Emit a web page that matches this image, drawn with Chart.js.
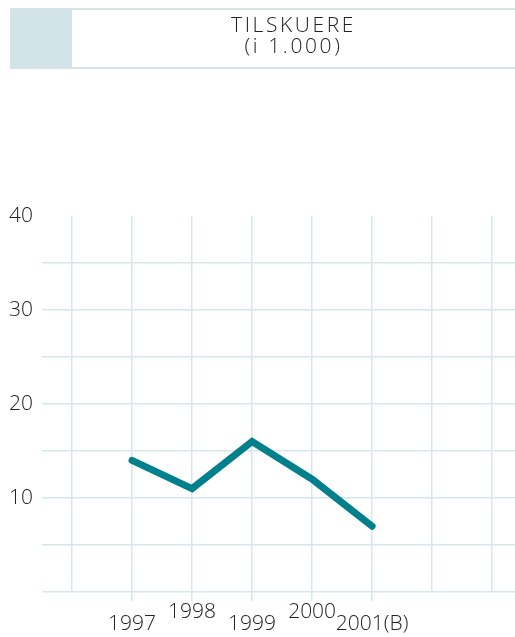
<!DOCTYPE html>
<html>
<head>
<meta charset="utf-8">
<script src="https://cdn.jsdelivr.net/npm/chart.js@4.4.1/dist/chart.umd.min.js"></script>
<style>
  html, body { margin: 0; padding: 0; background: #ffffff; }
  #wrap { position: relative; width: 515px; height: 637px; overflow: hidden; }
  #chart { position: absolute; left: 0; top: 0; }
  #hdrBlock { position: absolute; left: 10px; top: 8px; width: 62px; height: 61px; background: #d3e4e8; }
  #hdrBox { position: absolute; left: 72px; top: 8px; width: 443px; height: 57px;
            border-top: 2px solid #d3e4e8; border-bottom: 2px solid #d3e4e8; }
  #hdrText { position: absolute; left: 72px; top: 14px; width: 443px; text-align: center;
             font-family: "Open Sans", sans-serif; font-weight: 300; font-size: 21px;
             line-height: 21px; letter-spacing: 2.6px; color: #222; }
</style>
</head>
<body>
<div id="wrap">
  <canvas id="chart" width="515" height="637"></canvas>
  <div id="hdrBlock"></div>
  <div id="hdrBox"></div>
  <div id="hdrText">TILSKUERE<br>(i 1.000)</div>
</div>
<script>
const categories = ["1997", "1998", "1999", "2000", "2001(B)"];
const tilskuere = [14, 11, 16, 12, 7];
const yTickLabels = [10, 20, 30, 40];

const points = categories.map((c, i) => ({ x: i, y: tilskuere[i] }));
const gridColor = '#d6e7eb';
const tickFont = { family: '"Open Sans", sans-serif', weight: '300', size: 21 };

new Chart(document.getElementById('chart'), {
  type: 'line',
  data: {
    datasets: [{
      data: points,
      borderColor: '#00808c',
      borderWidth: 7,
      borderCapStyle: 'round',
      borderJoinStyle: 'miter',
      pointRadius: 0,
      tension: 0,
      fill: false
    }]
  },
  options: {
    responsive: false,
    animation: false,
    layout: { padding: { top: 216, left: 0, right: 0, bottom: 0 } },
    plugins: { legend: { display: false }, tooltip: { enabled: false }, title: { display: false } },
    scales: {
      x: {
        type: 'linear',
        min: -1.5,
        max: 6.38,
        border: { display: false },
        grid: {
          color: gridColor,
          lineWidth: 1.5,
          drawTicks: true,
          tickLength: 9,
          tickColor: (ctx) => (ctx.tick && categories[ctx.tick.value] !== undefined) ? gridColor : 'rgba(0,0,0,0)'
        },
        ticks: {
          stepSize: 1,
          includeBounds: false,
          maxRotation: 0,
          autoSkip: false,
          padding: 5,
          color: '#222',
          font: Object.assign({}, tickFont, { lineHeight: 0.57 }),
          callback: (v) => {
            const c = categories[v];
            if (c === undefined) return '';
            return (v % 2 === 0) ? ['', c] : [c, ''];
          }
        },
        afterFit: (s) => { s.height = 45; }
      },
      y: {
        min: 0,
        max: 40,
        border: { display: false },
        grid: {
          color: (ctx) => (ctx.tick && ctx.tick.value === 40) ? 'rgba(0,0,0,0)' : gridColor,
          lineWidth: 1.5,
          drawTicks: false
        },
        ticks: {
          stepSize: 5,
          padding: 9,
          color: '#222',
          font: tickFont,
          callback: (v) => yTickLabels.includes(v) ? String(v) : ''
        },
        afterFit: (s) => { s.width = 42; }
      }
    }
  }
});
</script>
</body>
</html>
